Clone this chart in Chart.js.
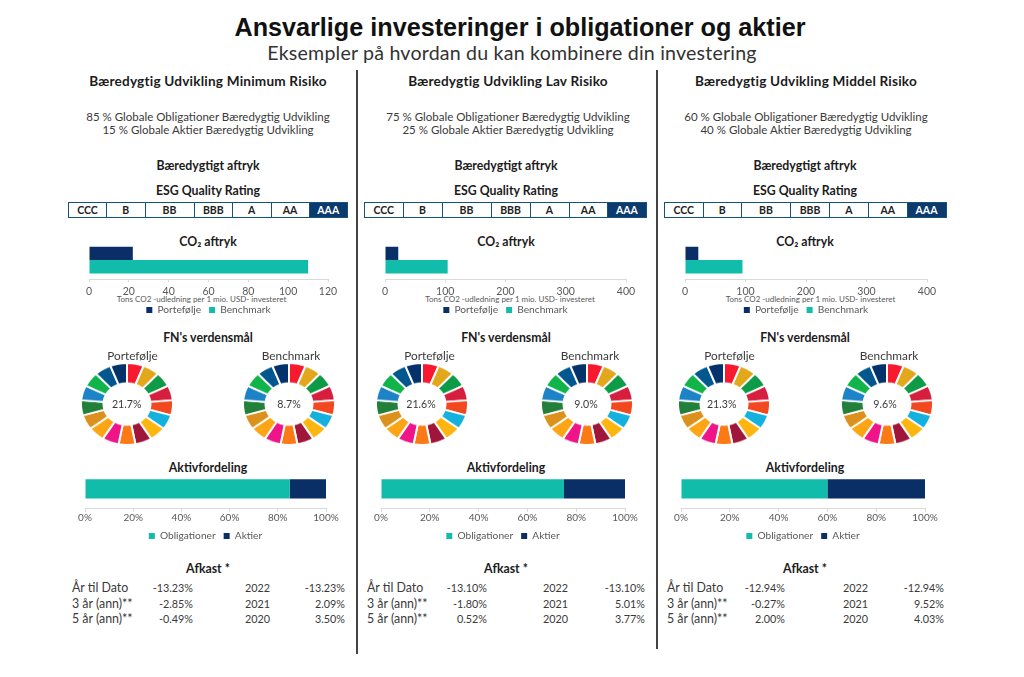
<!DOCTYPE html>
<html>
<head>
<meta charset="utf-8">
<title>Ansvarlige investeringer</title>
<script src="https://cdn.jsdelivr.net/npm/chart.js@4"></script>
<style>
  html, body { margin: 0; padding: 0; background: #fff; }
  body { width: 1024px; height: 677px; position: relative; overflow: hidden; font-family: Lato, sans-serif; color: #3a3a3a; }
  .t { position: absolute; white-space: nowrap; line-height: 1; transform: translateY(-50%); }
  .c { transform: translate(-50%, -50%); }
  .r { transform: translate(-100%, -50%); }
  .h { font-weight: 700; color: #1c1c1c; font-size: 12.3px; }
  .head { font-weight: 700; color: #1c1c1c; font-size: 13.6px; letter-spacing: .2px; }
  .title { font: 700 25.2px "Liberation Sans", sans-serif; color: #111; }
  .sub { font-size: 19.6px; color: #333; letter-spacing: .2px; }
  .mix { font-size: 11.5px; }
  .name { font-size: 11.8px; }
  .cap { font-size: 8px; color: #595959; }
  .lab { font-size: 12.4px; }
  .num { font-size: 10.8px; }
  .pie { font-size: 10.6px; }
  .divider { position: absolute; width: 1.5px; background: #444; }
  .esg { position: absolute; top: 202px; height: 16px; display: flex; box-sizing: border-box; border: 1px solid #14527a; }
  .esg div { flex: none; box-sizing: border-box; border-right: 1px solid #14527a; font-weight: 700; font-size: 10.5px; text-align: center; line-height: 14px; color: #222; }
  .esg div:last-child { border-right: 0; background: #0b3a6e; color: #fff; }
  canvas { position: absolute; }
</style>
</head>
<body>
<script>
const titleText = 'Ansvarlige investeringer i obligationer og aktier';
const subtitleText = 'Eksempler på hvordan du kan kombinere din investering';

const profiles = ['Bæredygtig Udvikling Minimum Risiko', 'Bæredygtig Udvikling Lav Risiko', 'Bæredygtig Udvikling Middel Risiko'];
const bondShare = [85, 75, 60];
const equityShare = [15, 25, 40];

const esgRatings = ['CCC', 'B', 'BB', 'BBB', 'A', 'AA', 'AAA'];

const co2Labels = ['Portefølje', 'Benchmark'];
const co2Portfolio = [22, 22, 22];
const co2Benchmark = [110, 104, 95];
const co2AxisMax = [120, 400, 400];
const co2AxisStep = [20, 100, 100];
const co2Caption = 'Tons CO2 -udledning per 1 mio. USD- investeret';

// the 17 goals are drawn as equal slices
const sdgSlices = [1, 1, 1, 1, 1, 1, 1, 1, 1, 1, 1, 1, 1, 1, 1, 1, 1];
const sdgColors = ['#f8192f', '#e3a71c', '#0d9b48', '#d61f3f', '#f2481f', '#14b1de', '#fdb60f', '#a0153a', '#fb7a15',
  '#ef1488', '#fda514', '#dc911c', '#23803a', '#1c83c6', '#10b44a', '#02578f', '#04336b'];
const sdgPortfolio = ['21.7%', '21.6%', '21.3%'];
const sdgBenchmark = ['8.7%', '9.0%', '9.6%'];

const returnLabels = ['År til Dato', '3 år (ann)**', '5 år (ann)**'];
const returnYears = ['2022', '2021', '2020'];
const returnsPeriod = [['-13.23%', '-2.85%', '-0.49%'], ['-13.10%', '-1.80%', '0.52%'], ['-12.94%', '-0.27%', '2.00%']];
const returnsYear = [['-13.23%', '2.09%', '3.50%'], ['-13.10%', '5.01%', '3.77%'], ['-12.94%', '9.52%', '4.03%']];

const navy = '#0a2f66';
const teal = '#12bcab';
const grey = '#595959';

// layout per column, pixels in the page
const cols = [
  { head: 208, sect: 208, esgX: 68, esgW: [38, 38.5, 49, 38.5, 38.5, 38, 37.5], co2: [88.7, 327.7], capX: 201.5, aktiv: [85, 326],
    pies: [126.7, 288.8], pieNames: [132.5, 291], pieText: [126.7, 289], ret: [72, 193, 245, 345] },
  { head: 508, sect: 506, esgX: 364, esgW: [38.5, 39, 49, 39, 39, 38.3, 38.2], co2: [385, 626.7], capX: 510, aktiv: [381, 625],
    pies: [422, 587], pieNames: [429.5, 590], pieText: [421, 586], ret: [367, 487, 543, 645] },
  { head: 806, sect: 805, esgX: 664, esgW: [38.5, 38.5, 49, 39, 39, 38.5, 38], co2: [684.5, 926.5], capX: 810.5, aktiv: [681, 925],
    pies: [723.7, 887], pieNames: [729.5, 889], pieText: [721.7, 885], ret: [667, 785, 843, 944] }
];

function text(x, y, str, cls) {
  const d = document.createElement('div');
  d.className = 't ' + cls;
  d.style.left = x + 'px';
  d.style.top = y + 'px';
  d.textContent = str;
  document.body.appendChild(d);
}

function canvasAt(x, y, w, h) {
  const c = document.createElement('canvas');
  c.width = w;
  c.height = h;
  c.style.left = x + 'px';
  c.style.top = y + 'px';
  document.body.appendChild(c);
  return c;
}

function legendOpts() {
  return {
    position: 'bottom',
    labels: { boxWidth: 6, boxHeight: 6, padding: 8, color: grey, font: { family: 'Lato', size: 10.2 } }
  };
}

// pulls the legend closer to the axis than its padding allows
function liftLegend(px) {
  return {
    id: 'liftLegend',
    afterLayout(chart) { chart.legend.top -= px; chart.legend.bottom -= px; }
  };
}

function co2Chart(i) {
  const [x0, x1] = cols[i].co2;
  const pad = 16;
  const c = canvasAt(x0 - pad, 241, x1 - x0 + pad * 2, 88);
  new Chart(c, {
    type: 'bar',
    data: {
      labels: ['CO2'],
      datasets: [
        { label: co2Labels[0], data: [co2Portfolio[i]], backgroundColor: navy },
        { label: co2Labels[1], data: [co2Benchmark[i]], backgroundColor: teal }
      ]
    },
    plugins: [liftLegend(4)],
    options: {
      indexAxis: 'y',
      responsive: false,
      animation: false,
      layout: { padding: { left: pad, right: pad, top: 0, bottom: 0 } },
      datasets: { bar: { categoryPercentage: 0.7, barPercentage: 1 } },
      plugins: { legend: legendOpts(), tooltip: { enabled: false } },
      scales: {
        x: {
          min: 0, max: co2AxisMax[i],
          grid: { drawOnChartArea: false, color: '#d9d9d9', tickLength: 3 },
          border: { color: '#d9d9d9' },
          ticks: { stepSize: co2AxisStep[i], color: grey, font: { family: 'Lato', size: 10.5 }, padding: 3, maxRotation: 0 }
        },
        y: { display: false }
      }
    }
  });
}

function aktivChart(i) {
  const [x0, x1] = cols[i].aktiv;
  const pad = 16;
  const c = canvasAt(x0 - pad, 469, x1 - x0 + pad * 2, 83);
  new Chart(c, {
    type: 'bar',
    data: {
      labels: ['Aktivfordeling'],
      datasets: [
        { label: 'Obligationer', data: [bondShare[i]], backgroundColor: teal },
        { label: 'Aktier', data: [equityShare[i]], backgroundColor: navy }
      ]
    },
    plugins: [liftLegend(1)],
    options: {
      indexAxis: 'y',
      responsive: false,
      animation: false,
      layout: { padding: { left: pad, right: pad } },
      datasets: { bar: { categoryPercentage: 0.48, barPercentage: 1 } },
      plugins: { legend: legendOpts(), tooltip: { enabled: false } },
      scales: {
        x: {
          stacked: true, min: 0, max: 100,
          grid: { drawOnChartArea: false, color: '#d9d9d9', tickLength: 3 },
          border: { color: '#d9d9d9' },
          ticks: { stepSize: 20, color: grey, font: { family: 'Lato', size: 10 }, padding: 0, maxRotation: 0, callback: v => v + '%' }
        },
        y: { stacked: true, display: false }
      }
    }
  });
}

function sdgChart(cx, cy) {
  const r = 47;
  const c = canvasAt(cx - r, cy - r, r * 2, r * 2);
  new Chart(c, {
    type: 'doughnut',
    data: { datasets: [{ data: sdgSlices, backgroundColor: sdgColors, borderColor: '#fff', borderWidth: 2 }] },
    options: {
      responsive: false,
      animation: false,
      cutout: '51%',
      plugins: { legend: { display: false }, tooltip: { enabled: false } }
    }
  });
  // the rings in the reference are slightly flattened
  c.style.transform = 'scaleY(0.89)';
}

text(520, 27, titleText, 'c title');
text(512, 53, subtitleText, 'c sub');

cols.forEach((col, i) => {
  text(col.head, 82, profiles[i], 'c head');
  text(col.head, 116.5, bondShare[i] + ' % Globale Obligationer Bæredygtig Udvikling', 'c mix');
  text(col.head, 129.5, equityShare[i] + ' % Globale Aktier Bæredygtig Udvikling', 'c mix');
  text(col.sect, 166, 'Bæredygtigt aftryk', 'c h');
  text(col.sect, 191, 'ESG Quality Rating', 'c h');
  text(col.sect, 242, 'CO₂ aftryk', 'c h');
  text(col.capX, 299, co2Caption, 'c cap');
  text(col.sect, 338, "FN's verdensmål", 'c h');
  text(col.sect, 468, 'Aktivfordeling', 'c h');
  text(col.sect, 569, 'Afkast *', 'c h');

  const esg = document.createElement('div');
  esg.className = 'esg';
  esg.style.left = col.esgX + 'px';
  esgRatings.forEach((r, k) => {
    const cell = document.createElement('div');
    cell.style.width = col.esgW[k] + 'px';
    cell.textContent = r;
    esg.appendChild(cell);
  });
  document.body.appendChild(esg);

  co2Chart(i);
  aktivChart(i);

  sdgChart(col.pies[0], 404);
  sdgChart(col.pies[1], 404);
  text(col.pieNames[0], 355.5, 'Portefølje', 'c name');
  text(col.pieNames[1], 355.5, 'Benchmark', 'c name');
  text(col.pieText[0], 404, sdgPortfolio[i], 'c pie');
  text(col.pieText[1], 404, sdgBenchmark[i], 'c pie');

  [588, 604, 619].forEach((y, k) => {
    text(col.ret[0], y, returnLabels[k], 'lab');
    text(col.ret[1], y, returnsPeriod[i][k], 'r num');
    text(col.ret[2], y, returnYears[k], 'num');
    text(col.ret[3], y, returnsYear[i][k], 'r num');
  });
});

[[356, 70, 584], [656, 70, 579]].forEach(([x, y, h]) => {
  const d = document.createElement('div');
  d.className = 'divider';
  d.style.left = x + 'px';
  d.style.top = y + 'px';
  d.style.height = h + 'px';
  document.body.appendChild(d);
});
</script>
</body>
</html>
